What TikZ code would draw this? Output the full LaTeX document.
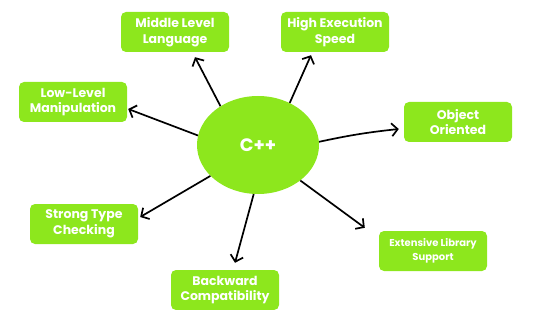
\documentclass[tikz,border=0pt]{standalone}
\usepackage{fontspec}
\setmainfont{Poppins}
\usetikzlibrary{shapes, arrows.meta, positioning, calc}
\definecolor{limegreen}{HTML}{8DE71D}

\begin{document}
\begin{tikzpicture}[
        x=1pt, y=-1pt,
        core/.style={ellipse, fill=limegreen, minimum width=122pt, minimum height=98pt, font=\fontsize{18}{20}\selectfont\bfseries, text=white},
        feature/.style={rectangle, fill=limegreen, minimum width=108pt, minimum height=40pt, align=center, font=\fontsize{12.5}{15.5}\selectfont\bfseries, text=white, rounded corners=5pt, inner sep=1pt},
        small/.style={font=\fontsize{10}{13.5}\selectfont\bfseries},
        arrow/.style={-{Straight Barb[length=6pt,width=13pt]}, line width=1.7pt, draw=black}
    ]
        \useasboundingbox (0,0) rectangle (533,310);
        \node[core] (cpp) at (258,145) {C++};
        \node[feature] (middle) at (175,32) {Middle Level\\Language};
        \node[feature] (speed) at (335,32) {High Execution\\Speed};
        \node[feature] (lowlevel) at (73,102) {Low-Level\\Manipulation};
        \node[feature] (object) at (458,122) {Object\\Oriented};
        \node[feature] (strong) at (84,224) {Strong Type\\Checking};
        \node[feature, small] (library) at (433,251) {Extensive Library\\Support};
        \node[feature] (backward) at (225,290) {Backward\\Compatibility};

        \draw[arrow] (cpp.134) -- ([xshift=20pt,yshift=-5pt]middle.south);
        \draw[arrow] (cpp.53) -- ([xshift=-24pt,yshift=-3pt]speed.south);
        \draw[arrow] (cpp.171) -- ([xshift=1pt,yshift=-7pt]lowlevel.east);
        \draw[arrow] (cpp.3) to[bend left=3] ([xshift=-5pt,yshift=-7pt]object.west);
        \draw[arrow] (cpp.213) -- ([xshift=2pt,yshift=7pt]strong.east);
        \draw[arrow] (cpp.265) -- ([xshift=10pt,yshift=7pt]backward.north);
        \draw[arrow] (cpp.320) -- ([xshift=-14pt,yshift=3pt]library.north west);
    \end{tikzpicture}
\end{document}
